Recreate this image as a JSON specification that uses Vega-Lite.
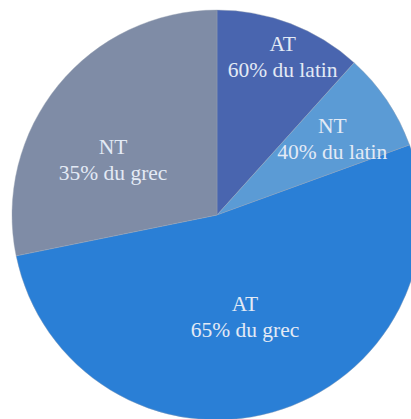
{
  "$schema": "https://vega.github.io/schema/vega-lite/v6.json",
  "width": 410,
  "height": 410,
  "autosize": {"type": "none"},
  "padding": {"left": 12, "top": 10, "right": 0, "bottom": 0},
  "background": "white",
  "config": {"view": {"stroke": null}},
  "data": {
    "values": [
      {"ordre": 1, "partie": "AT latin", "valeur": 42, "label": "AT\n60% du latin"},
      {"ordre": 2, "partie": "NT latin", "valeur": 28, "label": "NT\n40% du latin"},
      {"ordre": 3, "partie": "AT grec", "valeur": 188.5, "label": "AT\n65% du grec"},
      {"ordre": 4, "partie": "NT grec", "valeur": 101.5, "label": "NT\n35% du grec"}
    ]
  },
  "encoding": {
    "theta": {"field": "valeur", "type": "quantitative", "stack": true},
    "order": {"field": "ordre", "type": "quantitative"}
  },
  "layer": [
    {
      "mark": {"type": "arc", "outerRadius": 205, "stroke": "#9aa3b3", "strokeWidth": 0.4},
      "encoding": {
        "color": {
          "field": "partie",
          "type": "nominal",
          "scale": {
            "domain": ["AT latin", "NT latin", "AT grec", "NT grec"],
            "range": ["#4965AF", "#5B9BD5", "#2A7FD6", "#7F8CA6"]
          },
          "legend": null
        }
      }
    },
    {
      "mark": {"type": "text", "radius": 172, "dx": 4, "dy": -9, "font": "Liberation Serif", "fontSize": 21.5, "lineHeight": 26, "lineBreak": "\n", "align": "center", "baseline": "middle", "color": "#E3EAF5"},
      "encoding": {"text": {"condition": {"test": "datum.ordre == 1", "field": "label"}, "value": ""}}
    },
    {
      "mark": {"type": "text", "radius": 139, "dy": -10, "font": "Liberation Serif", "fontSize": 21.5, "lineHeight": 26, "lineBreak": "\n", "align": "center", "baseline": "middle", "color": "#E3EAF5"},
      "encoding": {"text": {"condition": {"test": "datum.ordre == 2", "field": "label"}, "value": ""}}
    },
    {
      "mark": {"type": "text", "radius": 103, "dy": -9, "font": "Liberation Serif", "fontSize": 21.5, "lineHeight": 26, "lineBreak": "\n", "align": "center", "baseline": "middle", "color": "#E3EAF5"},
      "encoding": {"text": {"condition": {"test": "datum.ordre == 3", "field": "label"}, "value": ""}}
    },
    {
      "mark": {"type": "text", "radius": 120, "dx": -11, "dy": 9, "font": "Liberation Serif", "fontSize": 21.5, "lineHeight": 26, "lineBreak": "\n", "align": "center", "baseline": "middle", "color": "#E3EAF5"},
      "encoding": {"text": {"condition": {"test": "datum.ordre == 4", "field": "label"}, "value": ""}}
    }
  ]
}
